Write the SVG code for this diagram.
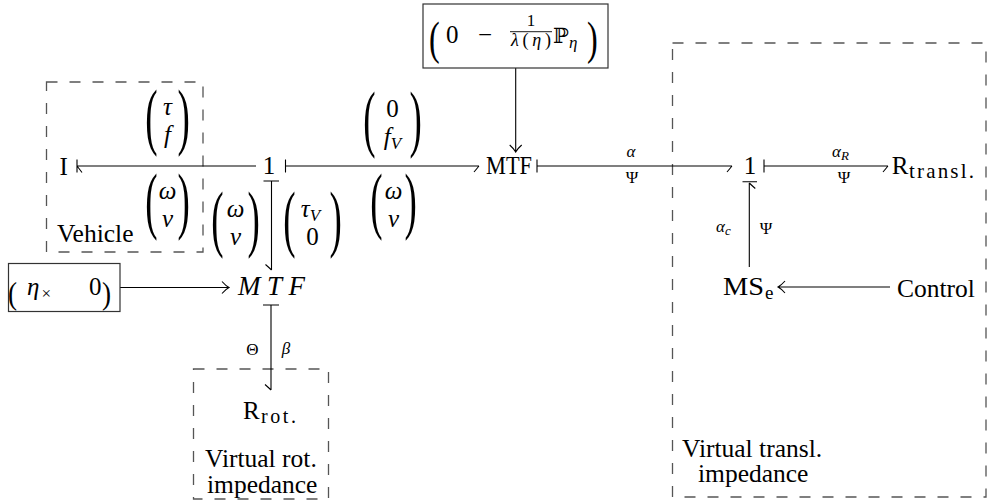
<svg xmlns="http://www.w3.org/2000/svg" width="989" height="504" viewBox="0 0 989 504">
  <style>
    .bond { stroke: #000; stroke-width: 1.1; fill: none; stroke-linecap: butt; }
    .dash { stroke: #555; stroke-width: 1.3; fill: none; stroke-dasharray: 11 12; }
    .box { stroke: #333; stroke-width: 1.2; fill: #fff; }
    .t { font-family: "Liberation Serif", serif; font-size: 25.5px; fill: #000; }
    .m { font-family: "Liberation Serif", serif; font-size: 25px; fill: #000; }
    .s { font-family: "Liberation Serif", serif; font-size: 17px; fill: #000; }
    .sub { font-family: "Liberation Serif", serif; font-size: 19px; fill: #000; }
    .i { font-style: italic; }
    .bp { font-family: "Liberation Serif", serif; font-size: 74px; fill: #000; }
    .mp { font-family: "Liberation Serif", serif; font-size: 46px; fill: #000; }
    .sp { font-family: "Liberation Serif", serif; font-size: 32px; fill: #000; }
    .bb { font-family: "DejaVu Serif", serif; font-size: 21px; fill: #000; }
  </style>

  <!-- dashed grouping frames -->
  <g id="frames">
    <rect class="dash" x="46.5" y="82" width="156.5" height="170"/>
    <rect class="dash" x="193.5" y="369" width="135" height="130"/>
    <rect class="dash" x="672.5" y="43" width="313.5" height="454"/>
  </g>

  <!-- bonds, signal arrows, causal strokes -->
  <g id="connectors">
    <!-- 1 to I -->
    <path class="bond" d="M256,166 H77 M77,159.5 V172.5 M77,166 Q79,168.5 82,172.5"/>
    <!-- 1 to MTF -->
    <path class="bond" d="M285.5,159.5 V172.5 M285.5,166 H479 M479,166 Q477,168.5 474,172"/>
    <!-- 1 down to MTF (italic) -->
    <path class="bond" d="M263.5,181 H279 M271.5,181 V270 M271.5,270 Q269.5,268 265.5,264.5"/>
    <!-- row matrix into MTF (italic) -->
    <path class="bond" d="M120,287.5 H229 M222,281.5 Q226,286 229,287.5 Q226,289 222,293.5"/>
    <!-- MTF (italic) down to R rot -->
    <path class="bond" d="M263,305 H279 M271,305 V390 M271,390 Q269,388 265,384.5"/>
    <!-- row matrix into MTF -->
    <path class="bond" d="M515.7,68 V152 M509.7,145 Q514.2,149 515.7,152 Q517.2,149 521.7,145"/>
    <!-- MTF to 1 -->
    <path class="bond" d="M537,159.5 V172.5 M537,166 H732 M732,166 Q730,168.5 727,172"/>
    <!-- 1 to R transl -->
    <path class="bond" d="M764,159.5 V172.5 M764,166 H888 M888,166 Q886,168.5 883,172"/>
    <!-- MSe up to 1 -->
    <path class="bond" d="M742.5,181.7 H757 M749.3,267 V183 M749.3,183 Q751.3,185 755.3,188.5"/>
    <!-- Control into MSe -->
    <path class="bond" d="M890,287 H778 M785,281 Q781,285.5 778,287 Q781,288.5 785,293"/>
  </g>

  <!-- 1 junction (left) -->
  <g id="junction-1-left">
    <text class="m" x="269" y="174" text-anchor="middle">1</text>
  </g>

  <!-- inertia -->
  <g id="node-I">
    <text class="m" x="59.5" y="174.5">I</text>
    <text class="t" x="57" y="242">Vehicle</text>
  </g>

  <!-- modulated transformer (upright) -->
  <g id="node-MTF">
    <text class="m" x="486" y="174" textLength="46" lengthAdjust="spacingAndGlyphs">MTF</text>
  </g>

  <!-- modulated transformer (italic) -->
  <g id="node-MTF-rot">
    <text class="m i" x="238" y="295" style="font-size:27px" textLength="67" lengthAdjust="spacing">MTF</text>
  </g>

  <!-- rotational resistance -->
  <g id="node-Rrot">
    <text class="m" x="243" y="419">R</text>
    <text class="sub" x="261" y="423" style="font-size:20px" textLength="35" lengthAdjust="spacing">rot.</text>
    <text class="t" x="205" y="467">Virtual rot.</text>
    <text class="t" x="207" y="493">impedance</text>
  </g>

  <!-- 1 junction (right) -->
  <g id="junction-1-right">
    <text class="m" x="750" y="174" text-anchor="middle">1</text>
  </g>

  <!-- translational resistance -->
  <g id="node-Rtransl">
    <text class="m" x="891.7" y="174">R</text>
    <text class="sub" x="909" y="178" style="font-size:21px" textLength="65" lengthAdjust="spacing">transl.</text>
  </g>

  <!-- modulated effort source -->
  <g id="node-MSe">
    <text class="m" x="723" y="295" style="font-size:26px" textLength="41" lengthAdjust="spacingAndGlyphs">MS</text>
    <text class="sub" x="765" y="299">e</text>
  </g>

  <g id="node-Control">
    <text class="t" x="897" y="297">Control</text>
  </g>

  <g id="label-transl">
    <text class="t" x="682" y="457">Virtual transl.</text>
    <text class="t" x="698" y="482">impedance</text>
  </g>

  <!-- row matrix box (top) -->
  <g id="node-matrix-top">
    <rect class="box" x="423" y="4" width="185" height="64"/>
    <text class="mp" transform="translate(429,54) scale(0.7,1)">(</text>
    <text class="m" x="446" y="43">0</text>
    <text class="m" x="478" y="43">−</text>
    <text class="s" x="531" y="26" text-anchor="middle">1</text>
    <line x1="510" y1="31.7" x2="552" y2="31.7" stroke="#000" stroke-width="0.9"/>
    <text class="s" x="531" y="46" style="font-size:18px" text-anchor="middle" textLength="40" lengthAdjust="spacing"><tspan class="i">λ</tspan>(<tspan class="i">η</tspan>)</text>
    <text class="bb" x="553" y="43">ℙ</text>
    <text class="s i" x="569" y="48">η</text>
    <text class="mp" transform="translate(587,54) scale(0.7,1)">)</text>
  </g>

  <!-- row matrix box (left) -->
  <g id="node-matrix-left">
    <rect class="box" x="8.5" y="263.5" width="111.5" height="48"/>
    <text class="sp" transform="translate(8,303.5) scale(0.85,1)">(</text>
    <text class="m i" x="27" y="295">η</text>
    <text class="s" x="41.5" y="299">×</text>
    <text class="m" x="89" y="295">0</text>
    <text class="sp" transform="translate(102,303.5) scale(0.85,1)">)</text>
  </g>

  <!-- bond variable labels -->
  <g id="labels">
    <g transform="translate(167.5,90)">
      <text class="bp" transform="translate(-22.2,51) scale(0.5,1)">(</text>
      <text class="bp" transform="translate(10,51) scale(0.5,1)">)</text>
      <text class="m i" x="0" y="25" text-anchor="middle">τ</text>
      <text class="m i" x="0" y="53" text-anchor="middle">f</text>
    </g>
    <g transform="translate(167.5,174)">
      <text class="bp" transform="translate(-22.2,51) scale(0.5,1)">(</text>
      <text class="bp" transform="translate(10,51) scale(0.5,1)">)</text>
      <text class="m i" x="0" y="25" text-anchor="middle">ω</text>
      <text class="m i" x="0" y="53" text-anchor="middle">v</text>
    </g>
    <g transform="translate(235.5,192)">
      <text class="bp" transform="translate(-24.2,51) scale(0.5,1)">(</text>
      <text class="bp" transform="translate(12,51) scale(0.5,1)">)</text>
      <text class="m i" x="0" y="25" text-anchor="middle">ω</text>
      <text class="m i" x="0" y="53" text-anchor="middle">v</text>
    </g>
    <g transform="translate(312.5,192)">
      <text class="bp" transform="translate(-29.2,51) scale(0.5,1)">(</text>
      <text class="bp" transform="translate(17,51) scale(0.5,1)">)</text>
      <text class="m i" x="-2" y="25" text-anchor="middle">τ<tspan font-size="17" dy="4">V</tspan></text>
      <text class="m" x="0" y="53" text-anchor="middle">0</text>
    </g>
    <g transform="translate(392.5,92)">
      <text class="bp" transform="translate(-29.2,51) scale(0.5,1)">(</text>
      <text class="bp" transform="translate(17,51) scale(0.5,1)">)</text>
      <text class="m" x="0" y="25" text-anchor="middle">0</text>
      <text class="m i" x="0" y="53" text-anchor="middle">f<tspan font-size="17" dy="4">V</tspan></text>
    </g>
    <g transform="translate(393.5,174)">
      <text class="bp" transform="translate(-23.2,51) scale(0.5,1)">(</text>
      <text class="bp" transform="translate(11,51) scale(0.5,1)">)</text>
      <text class="m i" x="0" y="25" text-anchor="middle">ω</text>
      <text class="m i" x="0" y="53" text-anchor="middle">v</text>
    </g>

    <text class="s i" x="631" y="157" text-anchor="middle">α</text>
    <text class="s" x="632" y="183" text-anchor="middle">Ψ</text>
    <text class="s i" x="832" y="157">α<tspan font-size="13" dy="3">R</tspan></text>
    <text class="s" x="844" y="183" text-anchor="middle">Ψ</text>
    <text class="s i" x="716" y="232">α<tspan font-size="13" dy="3">c</tspan></text>
    <text class="s" x="766" y="234" text-anchor="middle">Ψ</text>
    <text class="s" x="252.5" y="355" text-anchor="middle">Θ</text>
    <text class="s i" x="286" y="354" text-anchor="middle">β</text>
  </g>
</svg>
